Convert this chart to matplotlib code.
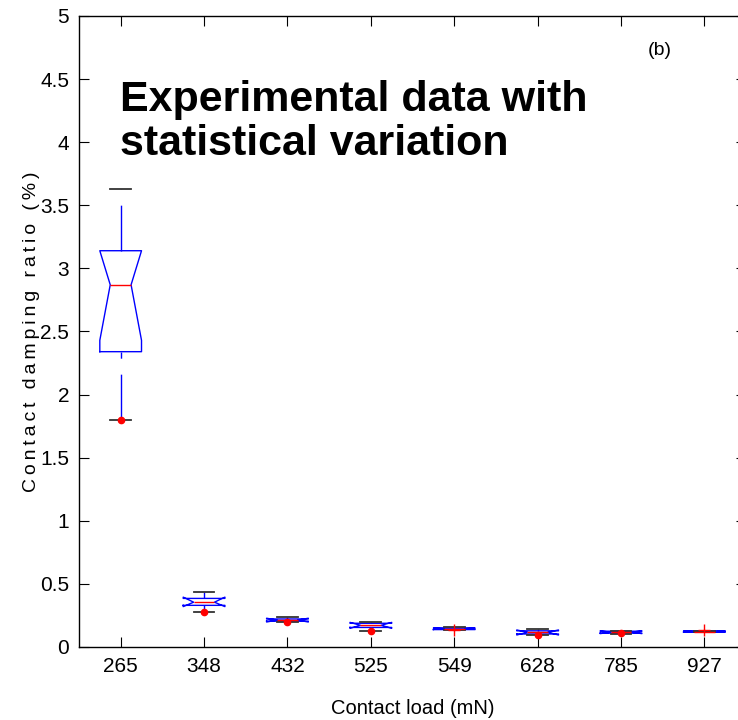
import matplotlib
matplotlib.use("Agg")
import matplotlib.pyplot as plt

plt.rcParams["font.family"] = ["Liberation Sans", "DejaVu Sans"]

loads = ["265", "348", "432", "525", "549", "628", "785", "927"]

# box statistics (damping ratio, %)
q1 = [2.34, 0.330, 0.205, 0.155, 0.138, 0.103, 0.110, 0.118]
med = [2.87, 0.355, 0.213, 0.172, 0.146, 0.117, 0.117, 0.122]
q3 = [3.14, 0.385, 0.222, 0.188, 0.150, 0.128, 0.125, 0.127]
notch_lo = [2.43, 0.320, 0.198, 0.148, 0.140, 0.095, 0.106, 0.118]
notch_hi = [3.14, 0.395, 0.228, 0.195, 0.150, 0.135, 0.128, 0.127]
whisk_lo = [1.80, 0.280, 0.200, 0.127, 0.138, 0.095, 0.106, 0.118]
whisk_hi = [3.63, 0.438, 0.235, 0.201, 0.160, 0.140, 0.130, 0.130]
outliers = [[], [], [], [], [0.135], [], [], [0.132]]

# extra red dots
dots = [1.80, 0.275, 0.200, 0.127, None, 0.095, 0.108, None]

stats = []
for i in range(len(loads)):
    stats.append(dict(q1=q1[i], med=med[i], q3=q3[i], cilo=notch_lo[i], cihi=notch_hi[i],
                      whislo=whisk_lo[i], whishi=whisk_hi[i], fliers=outliers[i]))

fig = plt.figure(figsize=(7.38, 7.2), dpi=100)
ax = fig.add_axes([0.107, 0.1014, 0.904, 0.8764])

pos = list(range(1, len(loads) + 1))
res = ax.bxp(stats, positions=pos, widths=0.5, shownotches=True, patch_artist=False,
             boxprops=dict(color="#0000ff", lw=1),
             medianprops=dict(color="#ff0000", lw=1),
             whiskerprops=dict(color="#0000ff", lw=1, linestyle=(0, (33, 11.5))),
             capprops=dict(color="#333333", lw=1.3),
             flierprops=dict(marker="+", markeredgecolor="#ff0000", markersize=9, lw=0))

# lower whiskers drawn from the cap upwards
for w in res["whiskers"][0::2]:
    w.set_ydata(w.get_ydata()[::-1])

dx = [p for p, d in zip(pos, dots) if d is not None]
dy = [d for d in dots if d is not None]
ax.plot(dx, dy, "o", color="#ff0000", ms=4.5, zorder=5)

ax.set_xlim(0.5, len(loads) + 0.5)
ax.set_ylim(0, 5)
ax.set_xticks(pos)
ax.set_xticklabels(loads)
ax.set_yticks([0, 0.5, 1, 1.5, 2, 2.5, 3, 3.5, 4, 4.5, 5])
ax.set_yticklabels(["0", "0.5", "1", "1.5", "2", "2.5", "3", "3.5", "4", "4.5", "5"])
ax.tick_params(direction="in", top=True, right=True, length=7, labelsize=15, pad=7)
for s in ax.spines.values():
    s.set_linewidth(1)

ax.set_xlabel("Contact load (mN)", fontsize=14.5, labelpad=17)
# letter-spaced y label like the original
ylab = "\u2009".join("Contact damping ratio (%)")
ax.set_ylabel(ylab, fontsize=14, labelpad=0)

ax.text(0.871, 0.946, "(b)", transform=ax.transAxes, fontsize=14, ha="center", va="center")
ax.text(0.0615, 0.898, "Experimental data with\nstatistical variation", transform=ax.transAxes,
        fontsize=31, fontweight="bold", ha="left", va="top", linespacing=1.12)

plt.savefig("out.png", dpi=100)
